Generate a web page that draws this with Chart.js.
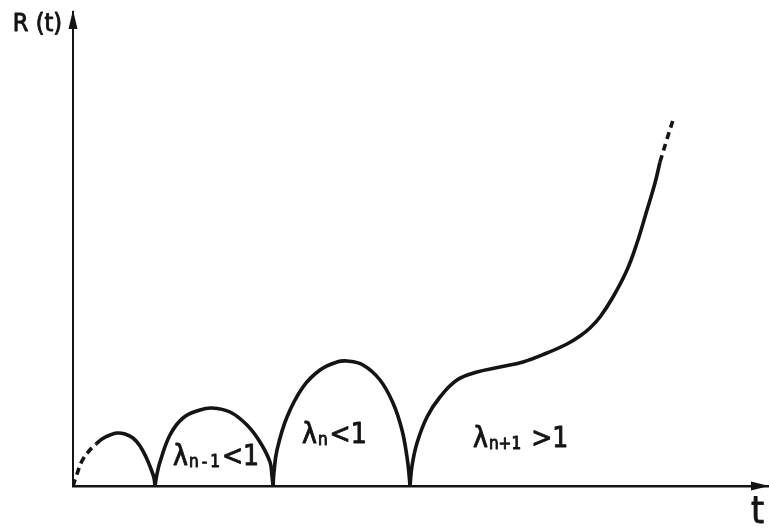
<!DOCTYPE html>
<html>
<head>
<meta charset="utf-8">
<title>R(t)</title>
<script src="https://cdn.jsdelivr.net/npm/chart.js@4.4.1/dist/chart.umd.min.js"></script>
<style>
    body { margin: 0; background: #fff; }
    #chartBox { width: 769px; height: 529px; }
</style>
</head>
<body>
<div id="chartBox">
    <canvas id="rtChart" width="769" height="529"></canvas>
</div>
<script>
// Points (t, R), one list per piece of the curve
var _startDashed = [[0, 0], [4, 12], [9, 25], [16, 35], [23, 42]];
var _arc1 = [[23, 42], [29, 47], [37, 51], [44, 53], [52, 52], [60, 48], [67, 40], [73, 29], [78, 17], [81, 8], [82, 0]];
var _arc2 = [[82, 0], [84, 12], [87, 24], [97, 51], [110, 68], [127, 76], [139, 78], [157, 74], [174, 61], [187, 44], [197, 24], [199, 10], [200, 0]];
var _arc3 = [[200, 0], [201, 14], [204, 36], [214, 69], [230, 99], [247, 116], [264, 124], [274, 125], [290, 121], [307, 106], [320, 83], [329, 56], [334, 29], [336, 12], [337, 0]];
var _rise = [[337, 0], [339, 20], [344, 43], [354, 69], [367, 89], [384, 106], [404, 114], [427, 119], [450, 124], [474, 133], [494, 142], [507, 150], [517, 158], [527, 169], [540, 189], [554, 216], [564, 243], [574, 276], [582, 303], [587, 324]];
var _endDashed = [[587, 324], [594, 347], [601, 369]];

// Text on the picture
var _yTitle = 'R (t)';
var _xTitle = 't';
var _labelMain = ['λ', 'λ', 'λ'];
var _labelSub = ['n\u2009-\u20091', 'n', 'n+1'];
var _labelTail = ['<1', '<1', ' >1'];
var _labelAt = [[100, 21], [229, 43], [400, 39]];

var _lineColor = '#141414';
var _font = '"DejaVu Sans", sans-serif';

function toXY(list) {
    return list.map(function (p) { return { x: p[0], y: p[1] }; });
}

function makeSet(list, dashed) {
    return {
        data: toXY(list),
        showLine: true,
        borderColor: _lineColor,
        borderWidth: 3.6,
        borderDash: dashed ? [7, 5] : [],
        borderCapStyle: 'butt',
        pointRadius: 0,
        tension: 0.4,
        fill: false
    };
}

// text a bit heavier than the regular face, like the print
function heavyText(ctx, s, x, y) {
    ctx.fillText(s, x, y);
    ctx.strokeText(s, x, y);
}

function setFont(ctx, size) {
    ctx.font = size + 'px ' + _font;
    if ('fontStretch' in ctx) ctx.fontStretch = 'condensed';
}

// Arrow heads, axis names and the lambda labels
var sketchText = {
    id: 'sketchText',
    afterDraw: function (chart) {
        var ctx = chart.ctx;
        var a = chart.chartArea;
        var sx = chart.scales.x;
        var sy = chart.scales.y;
        ctx.save();
        ctx.fillStyle = _lineColor;
        ctx.strokeStyle = _lineColor;
        ctx.lineWidth = 0.9;
        ctx.lineJoin = 'round';

        // y arrow
        ctx.beginPath();
        ctx.moveTo(a.left, a.top - 2);
        ctx.lineTo(a.left + 4.5, a.top + 17);
        ctx.lineTo(a.left - 4.5, a.top + 17);
        ctx.closePath();
        ctx.fill();

        // x arrow
        ctx.beginPath();
        ctx.moveTo(a.right + 1, a.bottom);
        ctx.lineTo(a.right - 17, a.bottom - 4.5);
        ctx.lineTo(a.right - 17, a.bottom + 4.5);
        ctx.closePath();
        ctx.fill();

        ctx.textBaseline = 'alphabetic';
        ctx.textAlign = 'right';
        setFont(ctx, 25);
        heavyText(ctx, _yTitle, a.left - 11, a.top + 19);

        ctx.textAlign = 'left';
        setFont(ctx, 37);
        heavyText(ctx, _xTitle, a.right - 17, a.bottom + 37);

        for (var i = 0; i < _labelAt.length; i++) {
            var px = sx.getPixelForValue(_labelAt[i][0]);
            var py = sy.getPixelForValue(_labelAt[i][1]);
            setFont(ctx, 28);
            heavyText(ctx, _labelMain[i], px, py);
            px += ctx.measureText(_labelMain[i]).width + 1;
            setFont(ctx, 17);
            heavyText(ctx, _labelSub[i], px, py + 2);
            px += ctx.measureText(_labelSub[i]).width + 2;
            setFont(ctx, 28);
            heavyText(ctx, _labelTail[i], px, py);
        }
        ctx.restore();
    }
};

function renderDoThi() {
    var ctx = document.getElementById('rtChart').getContext('2d');
    new Chart(ctx, {
        type: 'scatter',
        data: {
            datasets: [
                makeSet(_startDashed, true),
                makeSet(_arc1, false),
                makeSet(_arc2, false),
                makeSet(_arc3, false),
                makeSet(_rise, false),
                makeSet(_endDashed, true)
            ]
        },
        options: {
            responsive: false,
            animation: false,
            layout: { padding: { left: 73, right: 1, top: 12, bottom: 43 } },
            plugins: {
                legend: { display: false },
                tooltip: { enabled: false }
            },
            scales: {
                x: {
                    type: 'linear',
                    min: 0,
                    max: 695,
                    ticks: { display: false },
                    grid: { display: false, drawTicks: false },
                    border: { display: true, color: _lineColor, width: 2.5 }
                },
                y: {
                    type: 'linear',
                    min: 0,
                    max: 474,
                    ticks: { display: false },
                    grid: { display: false, drawTicks: false },
                    border: { display: true, color: _lineColor, width: 2 }
                }
            }
        },
        plugins: [sketchText]
    });
}

renderDoThi();
</script>
</body>
</html>
